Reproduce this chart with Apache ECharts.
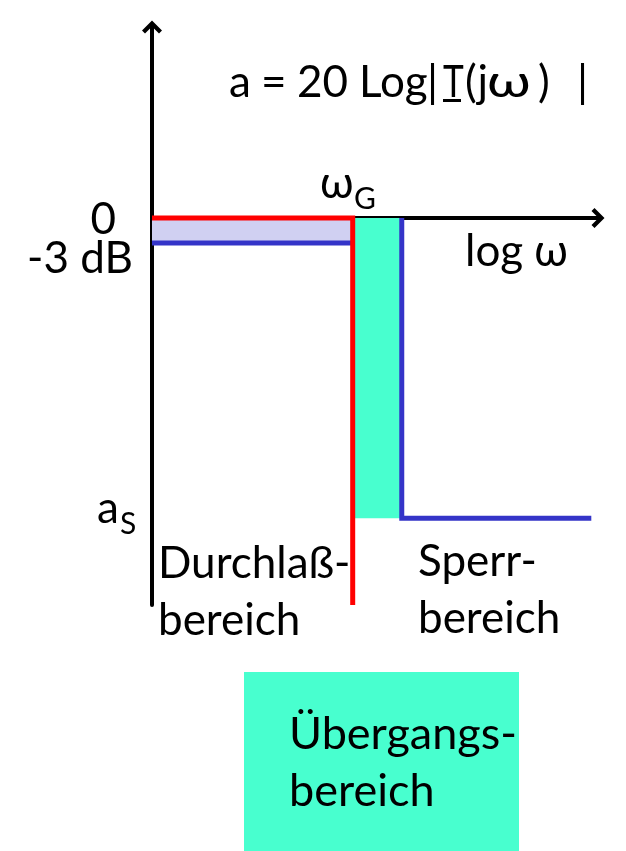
<!DOCTYPE html>
<html>
<head>
<meta charset="utf-8">
<script src="https://cdn.jsdelivr.net/npm/echarts@6/dist/echarts.min.js"></script>
<style>
html,body{margin:0;padding:0;background:#fff;}
#chart{width:626px;height:851px;}
</style>
</head>
<body>
<div id="chart"></div>
<script>
// ---- data (schematic tolerance scheme, x in log ω units, y in dB) ----
const xRange = [0, 10];
const yRange = [-46.4, 22.9];
const passEdge = 4.5;      // ω_G
const stopEdge = 5.6;      // start of stopband
const stopEnd = 9.85;
const rippleLevel = -3;    // -3 dB
const stopLevel = -36;     // a_S
const redX = [0, passEdge, passEdge];
const redY = [0, 0, yRange[0]];
const bluePassX = [0, passEdge];
const bluePassY = [rippleLevel, rippleLevel];
const blueStopX = [stopEdge, stopEdge, stopEnd];
const blueStopY = [0, stopLevel, stopLevel];
const levelLabels = ['0', '-3 dB', 'a', 'S'];
const regionLabels = ['Durchlaß-', 'bereich', 'Sperr-', 'bereich', 'Übergangs-', 'bereich'];
const titleParts = ['a', '=', '20', 'Log', '|', 'T', '(j', 'ω', ')', '|'];
const axisLabels = ['log ω', 'ω', 'G'];

const zip = (xs, ys) => xs.map((x, i) => [x, ys[i]]);

const FONT = 'Lato, "Open Sans", sans-serif';
const BIG = 44;
const SUB = 30;

const chart = echarts.init(document.getElementById('chart'), null, {renderer: 'canvas'});

const arrowPath = 'path://M10,0 L20,10 L17,13 L10,6 L3,13 L0,10 Z';

// baseline-positioned text (y = baseline)
function txt(text, x, y, size, align, sx) {
  return {
    type: 'text', z: 100,
    x: x, y: y - Math.round(size * 0.795), scaleX: sx || 1,
    style: {text: text, x: 0, y: 0, font: size + 'px ' + FONT, fill: '#000',
            textAlign: align || 'left', textVerticalAlign: 'top'}
  };
}

const titleY = 96;
const titleX = [229, 261, 297, 359, 427, 443, 465, 487, 538, 577];
const titleScale = [1, 1, 1, 1, 1, 0.8, 1, 1.3, 1, 1];

const option = {
  animation: false,
  backgroundColor: '#fff',
  grid: {left: 152, right: 28, top: 27, bottom: 246, containLabel: false},
  xAxis: {
    type: 'value', min: xRange[0], max: xRange[1],
    axisLine: {show: true, onZero: true, symbol: ['none', arrowPath], symbolSize: [20, 14],
               lineStyle: {color: '#000', width: 4}},
    axisTick: {show: false}, axisLabel: {show: false}, splitLine: {show: false}
  },
  yAxis: {
    type: 'value', min: yRange[0], max: yRange[1],
    axisLine: {show: true, onZero: false, symbol: ['none', arrowPath], symbolSize: [20, 14],
               lineStyle: {color: '#000', width: 4}},
    axisTick: {show: false}, axisLabel: {show: false}, splitLine: {show: false}
  },
  series: [
    {
      type: 'line', z: 1, data: [], silent: true,
      markArea: {
        silent: true,
        data: [
          [{xAxis: 0, yAxis: 0, itemStyle: {color: '#d0d0f2', opacity: 1}},
           {xAxis: passEdge, yAxis: rippleLevel}],
          [{xAxis: passEdge, yAxis: 0, itemStyle: {color: '#48ffcf', opacity: 1}},
           {xAxis: stopEdge, yAxis: stopLevel}]
        ]
      }
    },
    {
      type: 'line', z: 3, data: zip(bluePassX, bluePassY), symbol: 'none',
      lineStyle: {color: '#3434c8', width: 5, cap: 'butt'}
    },
    {
      type: 'line', z: 3, data: zip(blueStopX, blueStopY), symbol: 'none',
      lineStyle: {color: '#3434c8', width: 5, cap: 'butt', join: 'miter'}
    },
    {
      type: 'line', z: 4, data: zip(redX, redY), symbol: 'none',
      lineStyle: {color: '#ff0000', width: 5, cap: 'butt', join: 'miter'}
    }
  ],
  graphic: [
    ...titleParts.map((p, i) => txt(p, titleX[i], titleY, BIG, 'left', titleScale[i])),
    {type: 'rect', z: 100, shape: {x: 443, y: titleY + 3, width: 18, height: 3}, style: {fill: '#000'}},
    txt(axisLabels[1], 320, 197, BIG),
    txt(axisLabels[2], 354, 208, SUB),
    txt(axisLabels[0], 465, 265, BIG),
    txt(levelLabels[0], 116, 233, BIG, 'right'),
    txt(levelLabels[1], 133, 272, BIG, 'right'),
    txt(levelLabels[2], 97, 522, BIG),
    txt(levelLabels[3], 120, 533, SUB),
    txt(regionLabels[0], 158, 577, BIG),
    txt(regionLabels[1], 158, 634, BIG),
    txt(regionLabels[2], 418, 575, BIG),
    txt(regionLabels[3], 418, 632, BIG),
    {type: 'rect', z: 90, shape: {x: 244, y: 672, width: 275, height: 179}, style: {fill: '#48ffcf'}},
    txt(regionLabels[4], 289, 748, 45),
    txt(regionLabels[5], 289, 805, 45)
  ]
};
chart.setOption(option);
</script>
</body>
</html>
